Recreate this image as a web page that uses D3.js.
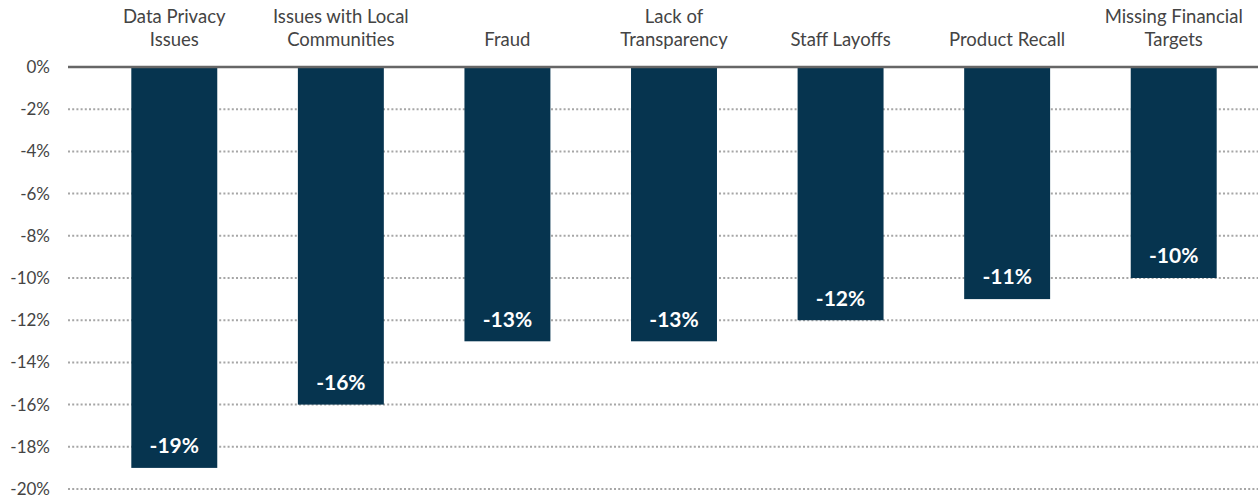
<!DOCTYPE html>
<html><head><meta charset="utf-8">
<script src="https://cdn.jsdelivr.net/npm/d3@7"></script>
<style>body{margin:0;background:#fff;}svg{display:block;font-family:Lato,"Open Sans",sans-serif;}</style>
</head><body><svg id="c" width="1258" height="501"></svg>
<script>
const categories = [["Data Privacy","Issues"],["Issues with Local","Communities"],["Fraud"],["Lack of","Transparency"],["Staff Layoffs"],["Product Recall"],["Missing Financial","Targets"]];
const values = [-19,-16,-13,-13,-12,-11,-10];
const yTicks = [0,-2,-4,-6,-8,-10,-12,-14,-16,-18,-20];

const svg = d3.select("#c");
const y = d3.scaleLinear().domain([0,-20]).range([67,489]);
const x = d3.scaleBand().domain(d3.range(values.length)).range([91,1257]).paddingInner(0.484).paddingOuter(0.242);

// grid
svg.append("g").selectAll("line").data(yTicks.filter(d=>d!==0)).join("line")
  .attr("x1",68).attr("x2",1258).attr("y1",d=>y(d)).attr("y2",d=>y(d))
  .attr("stroke","#a6a6a6").attr("stroke-width",2).attr("stroke-dasharray","2,2.2");
// y labels
svg.append("g").selectAll("text").data(yTicks).join("text")
  .attr("x",50).attr("y",d=>y(d)).attr("dy","0.35em").attr("text-anchor","end")
  .attr("font-size",17).attr("fill","#444").text(d=>d+"%");
// bars
svg.append("g").selectAll("rect").data(values).join("rect")
  .attr("x",(d,i)=>x(i)).attr("width",x.bandwidth())
  .attr("y",y(0)).attr("height",d=>y(d)-y(0)).attr("fill","#06344f");
// zero line
svg.append("line").attr("x1",68).attr("x2",1258).attr("y1",y(0)).attr("y2",y(0))
  .attr("stroke","#666").attr("stroke-width",2.5);
// value labels
svg.append("g").selectAll("text").data(values).join("text")
  .attr("x",(d,i)=>x(i)+x.bandwidth()/2).attr("y",d=>y(d)-22).attr("dy","0.35em")
  .attr("text-anchor","middle").attr("font-size",21).attr("font-weight","bold").attr("fill","#fff")
  .text(d=>d+"%");
// category labels
const cg = svg.append("g").selectAll("text").data(categories).join("text")
  .attr("text-anchor","middle").attr("font-size",18.5).attr("fill","#444");
cg.each(function(lines,i){
  const t = d3.select(this);
  const cx = x(i)+x.bandwidth()/2;
  lines.forEach((l,j)=>{
    t.append("tspan").attr("x",cx).attr("y",46 - (lines.length-1-j)*23).text(l);
  });
});
</script></body></html>
